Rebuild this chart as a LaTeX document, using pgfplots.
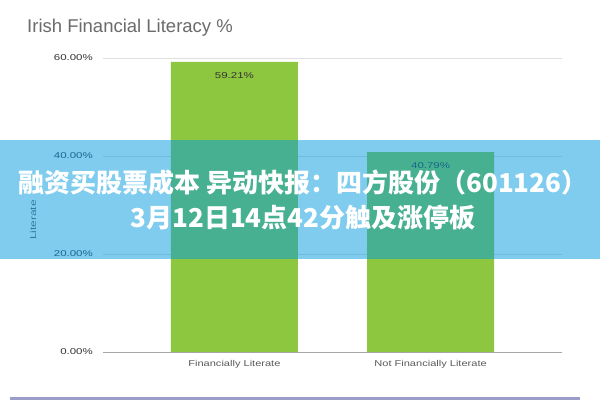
\documentclass[border=0pt]{standalone}
\usepackage{pgfplots}
\pgfplotsset{compat=1.18}
\usepackage{fontspec}
\setmainfont{Liberation Sans}
\newfontfamily\cjk{Noto Sans CJK SC}
\definecolor{bargreen}{RGB}{141,198,63}
\definecolor{bandblue}{RGB}{0,155,225}
\definecolor{txtgray}{RGB}{90,90,90}
\begin{document}
\begin{tikzpicture}[x=1pt,y=1pt]
\useasboundingbox (0,0) rectangle (600,400);
\fill[white] (0,0) rectangle (600,400);
\node[anchor=base west, font=\fontsize{18.5}{22}\selectfont, text=txtgray!90, inner sep=0] at (27,367) {Irish Financial Literacy \%};
\node[rotate=90, xscale=1.4, font=\fontsize{8.5}{10}\selectfont, text=txtgray] at (33,180) {Literate};
\begin{axis}[
  at={(103pt,48pt)}, anchor=south west,
  scale only axis, width=459pt, height=294pt,
  xmin=-0.67, xmax=1.67, ymin=0, ymax=60,
  ybar, bar width=127pt,
  axis line style={draw=none},
  major tick length=0pt,
  ymajorgrids, grid style={gray!25, line width=0.8pt},
  ytick={0,20,40,60},
  yticklabels={0.00\%,20.00\%,40.00\%,60.00\%},
  yticklabel style={font=\fontsize{8.5}{10}\selectfont, text=black!80, xscale=1.35, xshift=-4pt},
  xtick={0,1},
  xticklabels={Financially Literate, Not Financially Literate},
  xticklabel style={font=\fontsize{8.5}{10}\selectfont, xscale=1.3, text=txtgray, yshift=-5pt},
  /pgf/number format/assume math mode=true,
  nodes near coords={\pgfmathprintnumber[fixed,precision=2,fixed zerofill]{\pgfplotspointmeta}\%},
  every node near coord/.append style={anchor=north, yshift=-7pt, xscale=1.35, font=\fontsize{8.5}{10}\selectfont, text=black!80},
  clip=false,
]
\addplot[fill=bargreen, draw=none] coordinates {(0,59.21) (1,40.79)};
\draw[gray!70, line width=1pt] (axis cs:-0.67,0) -- (axis cs:1.67,0);
\end{axis}
\fill[bandblue, opacity=0.5] (0,141) rectangle (600,260);
\node[align=center, text=white, font=\cjk\bfseries\fontsize{26}{35}\selectfont] at (303,200) {融资买股票成本 异动快报：四方股份（601126）\\3月12日14点42分触及涨停板};
\fill[blue!30!gray!60] (10,0) rectangle (580,3);
\end{tikzpicture}
\end{document}
